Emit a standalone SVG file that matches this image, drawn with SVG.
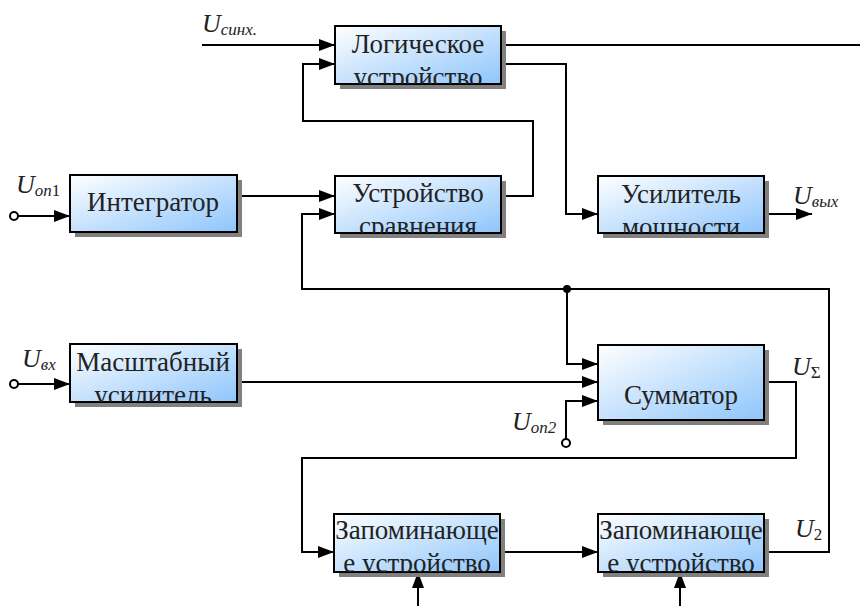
<svg xmlns="http://www.w3.org/2000/svg" width="860" height="606" viewBox="0 0 860 606" font-family="Liberation Serif, serif">
<defs>
<linearGradient id="g" x1="0" y1="0" x2="1" y2="1">
<stop offset="0" stop-color="#ffffff"/>
<stop offset="1" stop-color="#8ec5fb"/>
</linearGradient>
<marker id="a" markerUnits="userSpaceOnUse" markerWidth="16" markerHeight="12" refX="16" refY="6" orient="auto">
<path d="M0,0 L16,6 L0,12 z" fill="#000" stroke="none"/>
</marker>
<clipPath id="cLog"><rect x="335" y="26" width="166" height="58"/></clipPath>
<clipPath id="cCmp"><rect x="335" y="176" width="166" height="57"/></clipPath>
<clipPath id="cPow"><rect x="598" y="176" width="166" height="57"/></clipPath>
<clipPath id="cMas"><rect x="70" y="344" width="167" height="58"/></clipPath>
<clipPath id="cZ1"><rect x="334" y="514" width="166" height="58"/></clipPath>
<clipPath id="cZ2"><rect x="598" y="514" width="166" height="58"/></clipPath>
</defs>
<style>
.sh{fill:#808080}
.bx{fill:url(#g);stroke:#000;stroke-width:2}
.t{font-family:'Liberation Serif',serif;font-size:27px;fill:#222;text-anchor:middle}
.l{font-family:'Liberation Serif',serif;font-size:26px;font-style:italic;fill:#222}
.s{font-size:17px}
.n{font-style:normal}
.w{fill:none;stroke:#000;stroke-width:2}
.ar{marker-end:url(#a)}
</style>

<g id="connectors">
<path class="w ar" d="M202,45 H335"/>
<path class="w" d="M501,45 H860"/>
<path class="w ar" d="M501,64 H566 V214 H598"/>
<path class="w ar" d="M501,196 H533 V121 H303 V64 H335"/>
<path class="w ar" d="M237,196 H335"/>
<path class="w ar" d="M18,216 H70"/>
<path class="w ar" d="M764,214 H812"/>
<path class="w ar" d="M764,552 H829 V289 H302 V214 H335"/>
<path class="w ar" d="M567,289 V364 H598"/>
<path class="w ar" d="M237,382 H598"/>
<path class="w ar" d="M18,384 H70"/>
<path class="w ar" d="M566,439 V401 H598"/>
<path class="w ar" d="M764,382 H796 V458 H302 V552 H334"/>
<path class="w ar" d="M500,552 H598"/>
<path class="w ar" d="M418,606 V572"/>
<path class="w ar" d="M680,606 V572"/>
<circle cx="567" cy="289" r="4" fill="#000"/>
<circle cx="14" cy="216" r="4" fill="#fff" stroke="#000" stroke-width="2"/>
<circle cx="14" cy="384" r="4" fill="#fff" stroke="#000" stroke-width="2"/>
<circle cx="566" cy="443" r="4" fill="#fff" stroke="#000" stroke-width="2"/>
</g>

<g id="logic">
<rect class="sh" x="340" y="31" width="166" height="58"/>
<rect class="bx" x="335" y="26" width="166" height="58"/>
<g clip-path="url(#cLog)"><text class="t" x="418" y="53">Логическое</text><text class="t" x="418" y="86">устройство</text></g>
</g>

<g id="integrator">
<rect class="sh" x="75" y="180" width="167" height="57"/>
<rect class="bx" x="70" y="175" width="167" height="57"/>
<text class="t" x="153" y="211">Интегратор</text>
</g>

<g id="compare">
<rect class="sh" x="340" y="181" width="166" height="57"/>
<rect class="bx" x="335" y="176" width="166" height="57"/>
<g clip-path="url(#cCmp)"><text class="t" x="418" y="202">Устройство</text><text class="t" x="418" y="235">сравнения</text></g>
</g>

<g id="power">
<rect class="sh" x="603" y="181" width="166" height="57"/>
<rect class="bx" x="598" y="176" width="166" height="57"/>
<g clip-path="url(#cPow)"><text class="t" x="681" y="203">Усилитель</text><text class="t" x="681" y="236">мощности</text></g>
</g>

<g id="scale">
<rect class="sh" x="75" y="349" width="167" height="58"/>
<rect class="bx" x="70" y="344" width="167" height="58"/>
<g clip-path="url(#cMas)"><text class="t" x="153" y="371">Масштабный</text><text class="t" x="153" y="404">усилитель</text></g>
</g>

<g id="summator">
<rect class="sh" x="603" y="350" width="166" height="75"/>
<rect class="bx" x="598" y="345" width="166" height="75"/>
<text class="t" x="681" y="404">Сумматор</text>
</g>

<g id="memory1">
<rect class="sh" x="339" y="519" width="166" height="58"/>
<rect class="bx" x="334" y="514" width="166" height="58"/>
<g clip-path="url(#cZ1)"><text class="t" x="417" y="539">Запоминающе</text><text class="t" x="417" y="572">е устройство</text></g>
</g>

<g id="memory2">
<rect class="sh" x="603" y="519" width="166" height="58"/>
<rect class="bx" x="598" y="514" width="166" height="58"/>
<g clip-path="url(#cZ2)"><text class="t" x="681" y="539">Запоминающе</text><text class="t" x="681" y="572">е устройство</text></g>
</g>

<g id="labels">
<text class="l" x="202" y="32">U<tspan class="s" dy="3">синх.</tspan></text>
<text class="l" x="16" y="193">U<tspan class="s" dy="3">оп</tspan><tspan class="s n">1</tspan></text>
<text class="l" x="793" y="204">U<tspan class="s" dy="3">вых</tspan></text>
<text class="l" x="22" y="367">U<tspan class="s" dy="3">вх</tspan></text>
<text class="l" x="792" y="375">U<tspan class="s n" dy="3">Σ</tspan></text>
<text class="l" x="512" y="430">U<tspan class="s" dy="3">оп2</tspan></text>
<text class="l" x="795" y="537">U<tspan class="s n" dy="3">2</tspan></text>
</g>
</svg>
